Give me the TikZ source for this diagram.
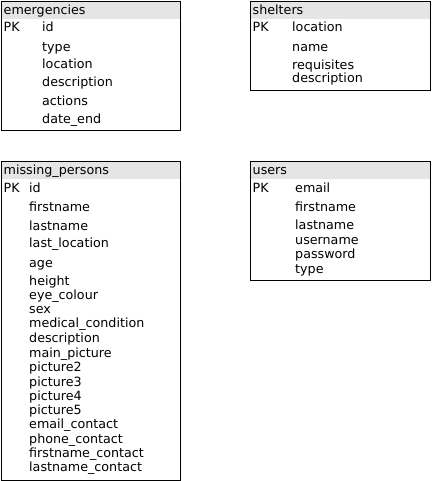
\documentclass[tikz,border=0pt]{standalone}
\usepackage{fontspec}
\setmainfont{DejaVu Sans}
\definecolor{hdrgray}{RGB}{229,229,229}
\newcommand\tblfont{\fontsize{12.7}{14}\selectfont}
\tikzset{
  frame/.style={draw=black, line width=1.1pt, anchor=north west, inner sep=0pt},
  hdr/.style={fill=hdrgray, anchor=north west, inner sep=0pt, minimum height=18pt},
  fld/.style={anchor=base west, inner sep=0pt, font=\tblfont, text=black},
}
\begin{document}
\begin{tikzpicture}[x=1pt,y=-1pt]
\useasboundingbox (0,0) rectangle (431,481);
% ---------- emergencies ----------
\node[hdr, minimum width=179pt] (eh) at (1,1) {};
\node[frame, minimum width=179pt, minimum height=129pt] (emerg) at (1,1) {};
\node[fld] (et) at (3.5,15) {emergencies};
\node[fld] (epk) at (3.5,32) {PK};
\node[fld] (e1) at (42,32) {id};
\node[fld] (e2) at (42,52) {type};
\node[fld] (e3) at (42,69) {location};
\node[fld] (e4) at (42,87) {description};
\node[fld] (e5) at (42,106) {actions};
\node[fld] (e6) at (42,124) {date\_end};
% ---------- shelters ----------
\node[hdr, minimum width=180pt] (sh) at (250,1) {};
\node[frame, minimum width=180pt, minimum height=89pt] (shel) at (250,1) {};
\node[fld] (st) at (252.5,15) {shelters};
\node[fld] (spk) at (252.5,32) {PK};
\node[fld] (s1) at (292,32) {location};
\node[fld] (s2) at (292,52) {name};
\node[fld] (s3) at (292,70) {requisites};
\node[fld] (s4) at (292,83) {description};
% ---------- missing_persons ----------
\node[hdr, minimum width=179pt] (mh) at (1,161) {};
\node[frame, minimum width=179pt, minimum height=319pt] (miss) at (1,161) {};
\node[fld] (mt) at (3.5,174) {missing\_persons};
\node[fld] (mpk) at (3.5,192) {PK};
\node[fld] (m1) at (29,192) {id};
\node[fld] (m2) at (29,211) {firstname};
\node[fld] (m3) at (29,230) {lastname};
\node[fld] (m4) at (29,247) {last\_location};
\node[fld] (m5) at (29,267) {age};
\node[fld] (m6) at (29,285) {height};
\node[fld] (m7) at (29,299) {eye\_colour};
\node[fld] (m8) at (29,313) {sex};
\node[fld] (m9) at (29,327) {medical\_condition};
\node[fld] (m10) at (29,342) {description};
\node[fld] (m11) at (29,357) {main\_picture};
\node[fld] (m12) at (29,371) {picture2};
\node[fld] (m13) at (29,386) {picture3};
\node[fld] (m14) at (29,400) {picture4};
\node[fld] (m15) at (29,414) {picture5};
\node[fld] (m16) at (29,428) {email\_contact};
\node[fld] (m17) at (29,443) {phone\_contact};
\node[fld] (m18) at (29,457) {firstname\_contact};
\node[fld] (m19) at (29,471) {lastname\_contact};
% ---------- users ----------
\node[hdr, minimum width=180pt] (uh) at (250,161) {};
\node[frame, minimum width=180pt, minimum height=119pt] (users) at (250,161) {};
\node[fld] (ut) at (252.5,174) {users};
\node[fld] (upk) at (252.5,192) {PK};
\node[fld] (u1) at (295,192) {email};
\node[fld] (u2) at (295,211) {firstname};
\node[fld] (u3) at (295,229) {lastname};
\node[fld] (u4) at (295,244) {username};
\node[fld] (u5) at (295,258) {password};
\node[fld] (u6) at (295,273) {type};
\end{tikzpicture}
\end{document}
